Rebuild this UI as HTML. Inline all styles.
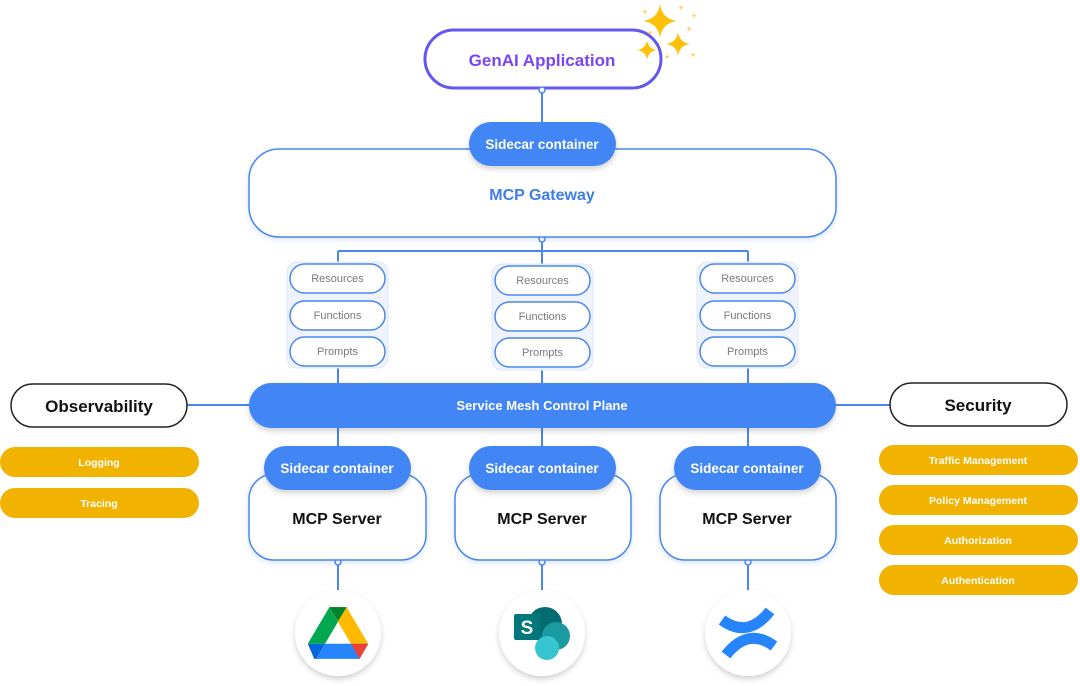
<!DOCTYPE html>
<html><head><meta charset="utf-8"><style>
html,body{margin:0;padding:0;background:#fff;}
svg{display:block;font-family:"Liberation Sans",sans-serif;}
</style></head><body>
<svg width="1080" height="686" viewBox="0 0 1080 686" xmlns="http://www.w3.org/2000/svg">
<defs>
<filter id="sh" x="-20%" y="-30%" width="140%" height="170%"><feDropShadow dx="0" dy="3" stdDeviation="3" flood-color="#000" flood-opacity="0.18"/></filter>
<filter id="sh2" x="-20%" y="-20%" width="140%" height="140%"><feDropShadow dx="0" dy="2" stdDeviation="3" flood-color="#4285f4" flood-opacity="0.2"/></filter>
<g id="star"><path d="M0,-1 Q0.12,-0.12 1,0 Q0.12,0.12 0,1 Q-0.12,0.12 -1,0 Q-0.12,-0.12 0,-1Z" fill="#ffc107"/></g>
</defs>
<g stroke="#4a86f0" stroke-width="2" fill="none">
<line x1="542" y1="88" x2="542" y2="124"/>
<line x1="542" y1="237" x2="542" y2="264"/>
<line x1="338" y1="251" x2="748" y2="251"/>
<line x1="338" y1="251" x2="338" y2="263"/>
<line x1="748" y1="251" x2="748" y2="263"/>
<line x1="338" y1="366" x2="338" y2="450"/>
<line x1="542" y1="368" x2="542" y2="450"/>
<line x1="748" y1="366" x2="748" y2="450"/>
<line x1="187" y1="405" x2="250" y2="405"/>
<line x1="836" y1="405" x2="890" y2="405"/>
<line x1="338" y1="560" x2="338" y2="592"/>
<line x1="542" y1="560" x2="542" y2="592"/>
<line x1="748" y1="560" x2="748" y2="592"/>
</g>
<rect x="425" y="30" width="236" height="58" rx="29" fill="#fff" stroke="#6457f0" stroke-width="3"/>
<text x="542" y="66" text-anchor="middle" font-size="17" font-weight="bold" fill="#7b45f5">GenAI Application</text>
<g fill="#fff" stroke="#4a86f0" stroke-width="1.5"><circle cx="542" cy="90" r="3"/><circle cx="542" cy="239" r="3"/>
<circle cx="338" cy="562" r="3"/><circle cx="542" cy="562" r="3"/><circle cx="748" cy="562" r="3"/></g>
<use href="#star" transform="translate(660,21) scale(17,17)"/>
<use href="#star" transform="translate(678,44) scale(12,12)"/>
<use href="#star" transform="translate(647,50) scale(10,10)"/>
<g fill="#ffb300" font-size="9" text-anchor="middle"><text x="645" y="15">+</text><text x="681" y="11">+</text><text x="694" y="19">+</text><text x="689" y="32">+</text><text x="650" y="36">+</text><text x="667" y="60">+</text><text x="693" y="58">+</text></g>
<rect x="249" y="149" width="587" height="88" rx="30" fill="#fff" stroke="#4a86f0" stroke-width="1.5" filter="url(#sh2)"/>
<text x="542" y="200" text-anchor="middle" font-size="16" font-weight="bold" fill="#3d7eea">MCP Gateway</text>
<rect x="469" y="122" width="147" height="44" rx="22" fill="#4285f4" filter="url(#sh)"/>
<text x="542" y="149" text-anchor="middle" font-size="13.5" font-weight="bold" fill="#fff">Sidecar container</text>
<g font-size="11" fill="#7a7a7a" text-anchor="middle">
<g transform="translate(287,262)">
<rect x="0" y="0" width="101" height="106" rx="10" fill="#eef3ff" stroke="#dde7fb"/>
<rect x="3" y="2" width="95" height="29" rx="14.5" fill="#fff" stroke="#4a86f0" stroke-width="1.5"/>
<rect x="3" y="39" width="95" height="29" rx="14.5" fill="#fff" stroke="#4a86f0" stroke-width="1.5"/>
<rect x="3" y="75" width="95" height="29" rx="14.5" fill="#fff" stroke="#4a86f0" stroke-width="1.5"/>
<text x="50.5" y="20">Resources</text><text x="50.5" y="57">Functions</text><text x="50.5" y="93">Prompts</text></g>
<g transform="translate(492,264)">
<rect x="0" y="0" width="101" height="106" rx="10" fill="#eef3ff" stroke="#dde7fb"/>
<rect x="3" y="2" width="95" height="29" rx="14.5" fill="#fff" stroke="#4a86f0" stroke-width="1.5"/>
<rect x="3" y="38" width="95" height="29" rx="14.5" fill="#fff" stroke="#4a86f0" stroke-width="1.5"/>
<rect x="3" y="74" width="95" height="29" rx="14.5" fill="#fff" stroke="#4a86f0" stroke-width="1.5"/>
<text x="50.5" y="20">Resources</text><text x="50.5" y="56">Functions</text><text x="50.5" y="92">Prompts</text></g>
<g transform="translate(697,262)">
<rect x="0" y="0" width="101" height="106" rx="10" fill="#eef3ff" stroke="#dde7fb"/>
<rect x="3" y="2" width="95" height="29" rx="14.5" fill="#fff" stroke="#4a86f0" stroke-width="1.5"/>
<rect x="3" y="39" width="95" height="29" rx="14.5" fill="#fff" stroke="#4a86f0" stroke-width="1.5"/>
<rect x="3" y="75" width="95" height="29" rx="14.5" fill="#fff" stroke="#4a86f0" stroke-width="1.5"/>
<text x="50.5" y="20">Resources</text><text x="50.5" y="57">Functions</text><text x="50.5" y="93">Prompts</text></g>
</g>
<rect x="249" y="383" width="587" height="45" rx="22.5" fill="#4285f4" filter="url(#sh)"/>
<text x="542" y="410" text-anchor="middle" font-size="13" font-weight="bold" fill="#fff">Service Mesh Control Plane</text>
<rect x="11" y="384" width="176" height="43" rx="21.5" fill="#fff" stroke="#222" stroke-width="1.5"/>
<text x="99" y="412" text-anchor="middle" font-size="17" font-weight="bold" fill="#111">Observability</text>
<rect x="890" y="383" width="177" height="43" rx="21.5" fill="#fff" stroke="#222" stroke-width="1.5"/>
<text x="978" y="411" text-anchor="middle" font-size="17" font-weight="bold" fill="#111">Security</text>
<g fill="#f2b200"><rect x="0" y="447" width="199" height="30" rx="15"/><rect x="0" y="488" width="199" height="30" rx="15"/>
<rect x="879" y="445" width="199" height="30" rx="15"/><rect x="879" y="485" width="199" height="30" rx="15"/><rect x="879" y="525" width="199" height="30" rx="15"/><rect x="879" y="565" width="199" height="30" rx="15"/></g>
<g fill="#fff" font-size="10.5" font-weight="bold" text-anchor="middle">
<text x="99" y="466">Logging</text><text x="99" y="507">Tracing</text>
<text x="978" y="464">Traffic  Management</text><text x="978" y="504">Policy Management</text><text x="978" y="544">Authorization</text><text x="978" y="584">Authentication</text></g>
<g>
<rect x="249" y="474" width="177" height="86" rx="25" fill="#fff" stroke="#4a86f0" stroke-width="1.5" filter="url(#sh2)"/>
<rect x="455" y="474" width="176" height="86" rx="25" fill="#fff" stroke="#4a86f0" stroke-width="1.5" filter="url(#sh2)"/>
<rect x="660" y="474" width="176" height="86" rx="25" fill="#fff" stroke="#4a86f0" stroke-width="1.5" filter="url(#sh2)"/>
<rect x="264" y="446" width="147" height="44" rx="22" fill="#4285f4" filter="url(#sh)"/>
<rect x="469" y="446" width="147" height="44" rx="22" fill="#4285f4" filter="url(#sh)"/>
<rect x="674" y="446" width="147" height="44" rx="22" fill="#4285f4" filter="url(#sh)"/>
<g font-size="13.5" font-weight="bold" fill="#fff" text-anchor="middle">
<text x="337" y="473">Sidecar container</text><text x="542" y="473">Sidecar container</text><text x="747" y="473">Sidecar container</text></g>
<g font-size="16" font-weight="bold" fill="#111" text-anchor="middle">
<text x="337" y="524">MCP Server</text><text x="542" y="524">MCP Server</text><text x="747" y="524">MCP Server</text></g>
</g>
<g fill="#fff" filter="url(#sh)"><circle cx="338" cy="633" r="43"/><circle cx="542" cy="633" r="43"/><circle cx="748" cy="633" r="43"/></g>
<g transform="translate(338,633) scale(1.08)">
<polygon points="-8,-24 8,-24 -12,10 -28,10" fill="#00a94f"/>
<polygon points="-8,-24 8,-24 28,10 12,10" fill="#ffba00"/>
<polygon points="-8,-24 8,-24 0,-11" fill="#00832d"/>
<polygon points="-28,10 -12,10 -20,24 -22,24" fill="#0066da"/>
<polygon points="-12,10 28,10 20,24 -20,24" fill="#2684fc"/>
<polygon points="12,10 28,10 20,24" fill="#ea4335"/>
</g>
<g transform="translate(542,633)">
<circle cx="3" cy="-9" r="17" fill="#036c70"/>
<circle cx="14" cy="3" r="14" fill="#1a9ba1"/>
<circle cx="5" cy="15" r="12" fill="#37c6d0"/>
<rect x="-28" y="-19" width="26" height="26" rx="2" fill="#03787c"/>
<text x="-15" y="1" text-anchor="middle" font-size="19" font-weight="bold" fill="#fff">S</text>
</g>
<g transform="translate(748,633)" fill="none" stroke="#2684fc" stroke-width="11">
<path d="M-26,-13 Q0,6 22,-22"/>
<path d="M26,13 Q0,-6 -22,22"/>
</g>
</svg>
</body></html>
